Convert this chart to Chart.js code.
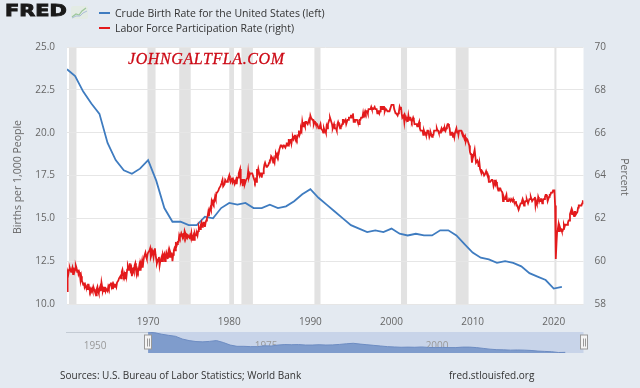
<!DOCTYPE html>
<html lang="en">
<head>
  <meta charset="UTF-8" />
  <title>Crude Birth Rate vs Labor Force Participation Rate</title>
  <script src="https://cdn.jsdelivr.net/npm/chart.js"></script>
  <style>
    body {
      margin: 0;
      width: 640px;
      height: 388px;
      overflow: hidden;
      position: relative;
      background: #e4eaf1;
      font-family: 'Open Sans', sans-serif;
      color: #333;
    }
    canvas { position: absolute; left: 0; }
    #main { top: 0; }
    #nav { top: 320px; }

    .logo {
      position: absolute;
      left: 5px;
      top: 1px;
      font-family: 'DejaVu Sans', sans-serif;
      font-weight: bold;
      font-size: 16px;
      color: #1a1a1a;
      -webkit-text-stroke: 0.9px #1a1a1a;
      transform: scaleX(1.3);
      transform-origin: left top;
      letter-spacing: 0px;
    }
    .icon { position: absolute; left: 71px; top: 6px; }

    .legend {
      position: absolute;
      left: 99px;
      font-size: 10.5px;
      line-height: 14px;
      white-space: nowrap;
    }
    .legend span {
      display: inline-block;
      width: 11px;
      height: 2px;
      margin-right: 5px;
      vertical-align: middle;
      position: relative;
      top: -1px;
    }

    .watermark {
      position: absolute;
      left: 128px;
      top: 50px;
      font-family: 'Liberation Serif', serif;
      font-style: italic;
      font-size: 16px;
      color: #cc0a16;
      -webkit-text-stroke: 0.3px #cc0a16;
      letter-spacing: 0.6px;
    }

    .axis-title {
      position: absolute;
      width: 200px;
      text-align: center;
      font-size: 10.5px;
      color: #666;
      line-height: 14px;
    }
    #leftTitle { left: -83px; top: 170px; transform: rotate(-90deg); }
    #rightTitle { left: 525px; top: 170px; transform: rotate(90deg); }

    .foot {
      position: absolute;
      top: 368px;
      font-size: 10px;
      line-height: 14px;
      color: #333;
    }
  </style>
</head>
<body>

  <canvas id="main" width="640" height="388"></canvas>
  <canvas id="nav" width="640" height="40"></canvas>

  <div class="logo">FRED</div>
  <svg class="icon" width="17" height="13" viewBox="0 0 17 13">
    <rect x="0" y="0" width="17" height="13" rx="2" fill="#e3ebe4"/>
    <polyline points="1,11 5,8 8,9 11,5 15,2" fill="none" stroke="#9cc79a" stroke-width="1.2"/>
    <polyline points="1,12 5,10 9,10 12,7 16,5" fill="none" stroke="#a9bcd8" stroke-width="1"/>
  </svg>

  <div class="legend" style="top:6px"><span style="background:#3f7cc0"></span>Crude Birth Rate for the United States (left)</div>
  <div class="legend" style="top:21px"><span style="background:#e31a1c"></span>Labor Force Participation Rate (right)</div>

  <div class="watermark">JOHNGALTFLA.COM</div>

  <div class="axis-title" id="leftTitle">Births per 1,000 People</div>
  <div class="axis-title" id="rightTitle">Percent</div>

  <div class="foot" style="left:60px">Sources: U.S. Bureau of Labor Statistics; World Bank</div>
  <div class="foot" style="left:449px">fred.stlouisfed.org</div>

  <script>
    // crude birth rate, births per 1,000 people (annual, World Bank)
    const birthYears = [
      1960, 1961, 1962, 1963, 1964, 1965, 1966, 1967, 1968, 1969,
      1970, 1971, 1972, 1973, 1974, 1975, 1976, 1977, 1978, 1979,
      1980, 1981, 1982, 1983, 1984, 1985, 1986, 1987, 1988, 1989,
      1990, 1991, 1992, 1993, 1994, 1995, 1996, 1997, 1998, 1999,
      2000, 2001, 2002, 2003, 2004, 2005, 2006, 2007, 2008, 2009,
      2010, 2011, 2012, 2013, 2014, 2015, 2016, 2017, 2018, 2019,
      2020, 2021
    ];
    const birthRate = [
      23.7, 23.3, 22.4, 21.7, 21.1, 19.4, 18.4, 17.8, 17.6, 17.9,
      18.4, 17.2, 15.6, 14.8, 14.8, 14.6, 14.6, 15.1, 15.0, 15.6,
      15.9, 15.8, 15.9, 15.6, 15.6, 15.8, 15.6, 15.7, 16.0, 16.4,
      16.7, 16.2, 15.8, 15.4, 15.0, 14.6, 14.4, 14.2, 14.3, 14.2,
      14.4, 14.1, 14.0, 14.1, 14.0, 14.0, 14.3, 14.3, 14.0, 13.5,
      13.0, 12.7, 12.6, 12.4, 12.5, 12.4, 12.2, 11.8, 11.6, 11.4,
      10.9, 11.0
    ];

    // labor force participation rate, percent (monthly from Jan 1960)
    const lfprStartYear = 1960;
    const lfpr = [
      58.6, 59.5, 59.4, 59.6, 59.7, 59.6, 59.5, 59.6, 59.7, 59.4, 59.7, 59.5,
      59.6, 59.8, 59.7, 59.5, 59.6, 59.4, 59.5, 59.4, 59.1, 59.3, 59.1, 59.0,
      58.9, 59.0, 58.8, 58.9, 58.8, 58.8, 58.7, 58.9, 58.9, 58.7, 58.6, 58.7,
      58.6, 58.7, 58.6, 58.8, 58.7, 58.6, 58.6, 58.4, 58.7, 58.8, 58.6, 58.5,
      58.7, 58.8, 58.6, 59.0, 58.8, 58.6, 58.7, 58.6, 58.8, 58.6, 58.7, 58.7,
      58.6, 58.8, 58.7, 58.9, 58.9, 59.0, 58.8, 58.9, 58.7, 58.9, 58.8, 58.9,
      58.9, 58.8, 59.0, 59.0, 59.1, 59.2, 59.2, 59.3, 59.2, 59.5, 59.6, 59.4,
      59.3, 59.4, 59.2, 59.5, 59.3, 59.6, 59.8, 59.7, 59.6, 59.9, 59.6, 59.7,
      59.3, 59.5, 59.6, 59.5, 59.8, 59.9, 59.6, 59.4, 59.6, 59.5, 59.6, 59.8,
      59.6, 59.9, 59.8, 60.0, 59.7, 60.0, 60.2, 60.2, 60.4, 60.2, 60.1, 60.3,
      60.4, 60.4, 60.5, 60.6, 60.2, 60.3, 60.5, 60.4, 60.2, 60.5, 60.6, 60.3,
      60.1, 59.9, 60.0, 60.1, 60.2, 59.8, 60.0, 60.1, 60.2, 60.0, 60.3, 60.2,
      60.3, 60.0, 60.2, 60.4, 60.3, 60.1, 60.4, 60.2, 60.5, 60.4, 60.2, 60.4,
      60.0, 60.3, 60.5, 60.6, 60.5, 60.9, 60.7, 60.8, 60.9, 60.9, 61.2, 61.1,
      61.2, 61.3, 61.2, 61.1, 61.2, 61.1, 61.4, 61.3, 61.1, 61.2, 61.1, 61.2,
      61.2, 61.1, 61.2, 61.1, 61.3, 61.0, 61.1, 61.2, 61.0, 61.3, 61.2, 61.2,
      61.3, 61.2, 61.4, 61.6, 61.5, 61.5, 61.7, 61.8, 61.6, 61.7, 61.8, 61.8,
      61.6, 61.8, 61.9, 62.0, 62.1, 62.3, 62.1, 62.4, 62.5, 62.4, 62.8, 62.7,
      62.8, 62.7, 62.8, 63.0, 62.9, 63.2, 63.2, 63.2, 63.3, 63.4, 63.4, 63.5,
      63.6, 63.7, 63.8, 63.5, 63.5, 63.6, 63.8, 63.8, 63.7, 63.7, 63.8, 63.9,
      64.0, 63.8, 63.7, 63.8, 63.9, 63.7, 63.8, 63.7, 63.6, 63.7, 63.8, 63.6,
      63.9, 63.9, 64.1, 64.2, 64.3, 63.7, 63.8, 63.8, 63.5, 63.8, 63.8, 63.6,
      63.7, 63.8, 63.8, 63.9, 64.2, 63.9, 64.0, 64.1, 64.1, 64.1, 64.1, 64.1,
      63.9, 63.8, 63.7, 63.8, 63.7, 64.3, 64.1, 64.3, 64.3, 64.0, 64.1, 64.1,
      63.9, 64.1, 64.1, 64.3, 64.5, 64.6, 64.6, 64.4, 64.4, 64.4, 64.5, 64.6,
      64.7, 64.7, 64.9, 64.9, 64.8, 64.6, 64.7, 64.6, 64.9, 65.0, 64.9, 65.0,
      64.9, 65.0, 65.2, 65.2, 65.4, 65.4, 65.4, 65.3, 65.4, 65.4, 65.4, 65.3,
      65.4, 65.5, 65.5, 65.4, 65.7, 65.5, 65.6, 65.7, 65.5, 65.7, 65.8, 65.7,
      65.8, 65.9, 65.7, 65.8, 65.7, 65.8, 65.9, 66.1, 65.9, 66.0, 66.2, 66.1,
      66.5, 66.3, 66.3, 66.4, 66.3, 66.5, 66.5, 66.5, 66.4, 66.5, 66.6, 66.5,
      66.8, 66.7, 66.7, 66.6, 66.6, 66.4, 66.5, 66.5, 66.4, 66.4, 66.4, 66.4,
      66.2, 66.2, 66.3, 66.4, 66.2, 66.2, 66.1, 66.0, 66.2, 66.1, 66.1, 66.0,
      66.3, 66.2, 66.4, 66.5, 66.6, 66.7, 66.6, 66.5, 66.4, 66.2, 66.3, 66.4,
      66.2, 66.2, 66.2, 66.1, 66.4, 66.5, 66.4, 66.4, 66.2, 66.3, 66.3, 66.4,
      66.6, 66.6, 66.5, 66.5, 66.6, 66.4, 66.4, 66.6, 66.6, 66.7, 66.7, 66.7,
      66.8, 66.8, 66.7, 66.9, 66.5, 66.5, 66.6, 66.6, 66.6, 66.6, 66.5, 66.4,
      66.4, 66.6, 66.6, 66.7, 66.7, 66.7, 66.9, 66.7, 66.9, 67.0, 66.9, 67.0,
      67.0, 66.9, 67.1, 67.1, 67.1, 67.1, 67.2, 67.1, 67.1, 67.1, 67.1, 67.2,
      67.1, 67.1, 67.1, 66.9, 67.0, 67.0, 66.9, 67.0, 67.2, 67.2, 67.1, 67.2,
      67.2, 67.2, 67.0, 67.1, 67.1, 67.1, 67.0, 67.0, 67.0, 67.0, 67.1, 67.1,
      67.3, 67.3, 67.3, 67.3, 67.1, 67.1, 66.9, 66.9, 66.9, 66.8, 66.9, 67.0,
      67.2, 67.1, 67.2, 66.9, 66.7, 66.7, 66.8, 66.5, 66.8, 66.7, 66.7, 66.7,
      66.5, 66.8, 66.6, 66.7, 66.7, 66.6, 66.5, 66.6, 66.7, 66.6, 66.4, 66.4,
      66.4, 66.4, 66.3, 66.4, 66.4, 66.5, 66.2, 66.1, 66.1, 66.1, 66.1, 65.9,
      66.1, 66.0, 66.0, 65.9, 65.9, 66.1, 66.1, 66.0, 65.8, 65.9, 66.0, 65.9,
      65.8, 65.9, 65.9, 66.1, 66.1, 66.1, 66.1, 66.2, 66.1, 66.1, 66.0, 66.0,
      66.0, 66.1, 66.2, 66.1, 66.1, 66.2, 66.1, 66.2, 66.1, 66.2, 66.3, 66.4,
      66.4, 66.3, 66.2, 65.9, 66.0, 66.0, 66.0, 65.8, 66.0, 65.8, 66.0, 66.0,
      66.2, 66.0, 66.1, 65.9, 66.1, 66.1, 66.1, 66.1, 66.0, 66.0, 65.9, 65.8,
      65.7, 65.8, 65.6, 65.7, 65.7, 65.7, 65.5, 65.4, 65.1, 65.0, 65.0, 64.6,
      64.8, 64.9, 64.9, 65.2, 64.9, 64.6, 64.6, 64.7, 64.6, 64.4, 64.6, 64.3,
      64.2, 64.1, 64.2, 64.2, 64.1, 64.0, 64.0, 64.1, 64.2, 64.1, 64.1, 64.0,
      63.7, 63.7, 63.7, 63.7, 63.8, 63.8, 63.7, 63.5, 63.6, 63.8, 63.6, 63.7,
      63.6, 63.4, 63.3, 63.4, 63.4, 63.4, 63.3, 63.3, 63.2, 62.8, 63.0, 62.9,
      62.9, 63.0, 63.1, 62.8, 62.8, 62.8, 62.9, 62.9, 62.8, 62.9, 62.9, 62.8,
      62.9, 62.8, 62.7, 62.7, 62.8, 62.6, 62.6, 62.6, 62.4, 62.5, 62.5, 62.7,
      62.7, 62.8, 62.9, 62.8, 62.6, 62.7, 62.8, 62.8, 62.9, 62.8, 62.7, 62.7,
      62.9, 62.9, 63.0, 62.9, 62.8, 62.8, 62.9, 62.9, 63.0, 62.6, 62.8, 62.7,
      62.7, 63.0, 62.9, 62.8, 62.8, 62.9, 62.9, 62.7, 62.8, 62.9, 62.9, 63.0,
      63.1, 63.1, 63.0, 62.8, 62.9, 63.0, 63.1, 63.1, 63.2, 63.2, 63.2, 63.3,
      63.3, 63.3, 62.6, 60.1, 60.8, 61.4, 61.5, 61.7, 61.4, 61.6, 61.5, 61.5,
      61.4, 61.4, 61.5, 61.7, 61.6, 61.7, 61.7, 61.7, 61.7, 61.8, 61.9, 61.9,
      62.2, 62.3, 62.4, 62.2, 62.3, 62.2, 62.1, 62.3, 62.3, 62.2, 62.2, 62.3,
      62.5, 62.6, 62.6, 62.6, 62.6, 62.6, 62.7, 62.8, 62.8
    ];

    // NBER recessions, first and last month
    const recessionStart = ['1960-04', '1969-12', '1973-11', '1980-01', '1981-07', '1990-07', '2001-03', '2007-12', '2020-02'];
    const recessionEnd   = ['1961-02', '1970-11', '1975-03', '1980-07', '1982-11', '1991-03', '2001-11', '2009-06', '2020-04'];

    const xTicks = [1970, 1980, 1990, 2000, 2010, 2020];
    const navTicks = [1950, 1975, 2000];
    const navStart = 1948;

    function monthToYear(s, endOfMonth) {
      const [y, m] = s.split('-').map(Number);
      return y + (m - 1 + (endOfMonth ? 1 : 0)) / 12;
    }

    const birthPoints = birthYears.map((y, i) => ({ x: y, y: birthRate[i] }));
    const lfprPoints = lfpr.map((v, i) => ({ x: lfprStartYear + i / 12, y: v }));
    const xMin = lfprStartYear;
    const xMax = lfprPoints[lfprPoints.length - 1].x;

    const plotBackground = {
      id: 'plotBackground',
      beforeDraw(chart) {
        const { ctx, chartArea: a, scales: { x } } = chart;
        ctx.save();
        ctx.fillStyle = '#ffffff';
        ctx.fillRect(a.left, a.top, a.width, a.height);
        ctx.fillStyle = '#e2e2e2';
        recessionStart.forEach((s, i) => {
          const x0 = x.getPixelForValue(monthToYear(s, false));
          const x1 = x.getPixelForValue(monthToYear(recessionEnd[i], true));
          ctx.fillRect(x0, a.top, Math.max(1.5, x1 - x0), a.height);
        });
        ctx.restore();
      }
    };

    const tickFont = { family: "'Open Sans', sans-serif", size: 10 };

    new Chart(document.getElementById('main'), {
      type: 'line',
      data: {
        datasets: [
          {
            label: 'Labor Force Participation Rate (right)',
            data: lfprPoints,
            yAxisID: 'y1',
            borderColor: '#e31a1c',
            borderWidth: 1.8,
            pointRadius: 0,
            tension: 0,
            order: 0
          },
          {
            label: 'Crude Birth Rate for the United States (left)',
            data: birthPoints,
            yAxisID: 'y',
            borderColor: '#3f7cc0',
            borderWidth: 1.8,
            pointRadius: 0,
            tension: 0,
            order: 1
          }
        ]
      },
      options: {
        responsive: false,
        animation: false,
        events: [],
        layout: { padding: { top: 47, left: 0, right: 0, bottom: 0 } },
        plugins: { legend: { display: false }, tooltip: { enabled: false } },
        scales: {
          x: {
            type: 'linear',
            min: xMin,
            max: xMax,
            afterBuildTicks: s => { s.ticks = xTicks.map(v => ({ value: v })); },
            afterFit: s => { s.height = 84; },
            grid: { display: false },
            border: { display: false },
            ticks: { callback: v => String(v), color: '#666', font: tickFont, padding: 4, maxRotation: 0 }
          },
          y: {
            position: 'left',
            min: 10,
            max: 25,
            afterFit: s => { s.width = 67; },
            grid: { color: '#e6e6e6', drawTicks: false },
            border: { display: false },
            ticks: { stepSize: 2.5, callback: v => v.toFixed(1), color: '#666', font: tickFont, padding: 12 }
          },
          y1: {
            position: 'right',
            min: 58,
            max: 70,
            afterFit: s => { s.width = 56.5; },
            grid: { display: false, drawTicks: false },
            border: { display: false },
            ticks: { stepSize: 2, callback: v => String(v), color: '#666', font: tickFont, padding: 11 }
          }
        }
      },
      plugins: [plotBackground]
    });

    // navigator strip under the chart
    const navigatorDecor = {
      id: 'navigatorDecor',
      beforeDraw(chart) {
        const { ctx, chartArea: a, scales: { x } } = chart;
        const s = x.getPixelForValue(xMin), e = x.getPixelForValue(xMax);
        ctx.save();
        ctx.fillStyle = '#c8d4e9';
        ctx.fillRect(s, a.top, e - s, a.height);
        ctx.strokeStyle = '#c3cbd4';
        ctx.lineWidth = 1;
        ctx.beginPath();
        ctx.moveTo(a.left, a.top + 0.5);
        ctx.lineTo(s, a.top + 0.5);
        ctx.stroke();
        ctx.fillStyle = '#999';
        ctx.font = "10px 'Open Sans', sans-serif";
        ctx.textBaseline = 'middle';
        navTicks.forEach(t => ctx.fillText(String(t), x.getPixelForValue(t) + 4, a.top + a.height / 2 + 4));
        ctx.restore();
      },
      afterDraw(chart) {
        const { ctx, chartArea: a, scales: { x } } = chart;
        ctx.save();
        [xMin, xMax].forEach(v => {
          const px = Math.round(x.getPixelForValue(v));
          const cy = a.top + a.height / 2;
          ctx.fillStyle = '#f4f4f4';
          ctx.strokeStyle = '#999';
          ctx.lineWidth = 1;
          ctx.fillRect(px - 3.5, cy - 7.5, 7, 14);
          ctx.strokeRect(px - 3.5, cy - 7.5, 7, 14);
          ctx.beginPath();
          ctx.moveTo(px - 0.5, cy - 4); ctx.lineTo(px - 0.5, cy + 4);
          ctx.moveTo(px + 1.5, cy - 4); ctx.lineTo(px + 1.5, cy + 4);
          ctx.stroke();
        });
        ctx.restore();
      }
    };

    new Chart(document.getElementById('nav'), {
      type: 'line',
      data: {
        datasets: [{
          data: birthPoints,
          borderColor: '#6d8cc2',
          backgroundColor: '#7f9ccc',
          borderWidth: 1,
          fill: 'start',
          pointRadius: 0,
          tension: 0
        }]
      },
      options: {
        responsive: false,
        animation: false,
        events: [],
        layout: { padding: { top: 12, bottom: 7, left: 66, right: 56.5 } },
        plugins: { legend: { display: false }, tooltip: { enabled: false } },
        scales: {
          x: { type: 'linear', min: navStart, max: xMax, display: false },
          y: { min: 10.6, max: 23.8, display: false }
        }
      },
      plugins: [navigatorDecor]
    });
  </script>
</body>
</html>
